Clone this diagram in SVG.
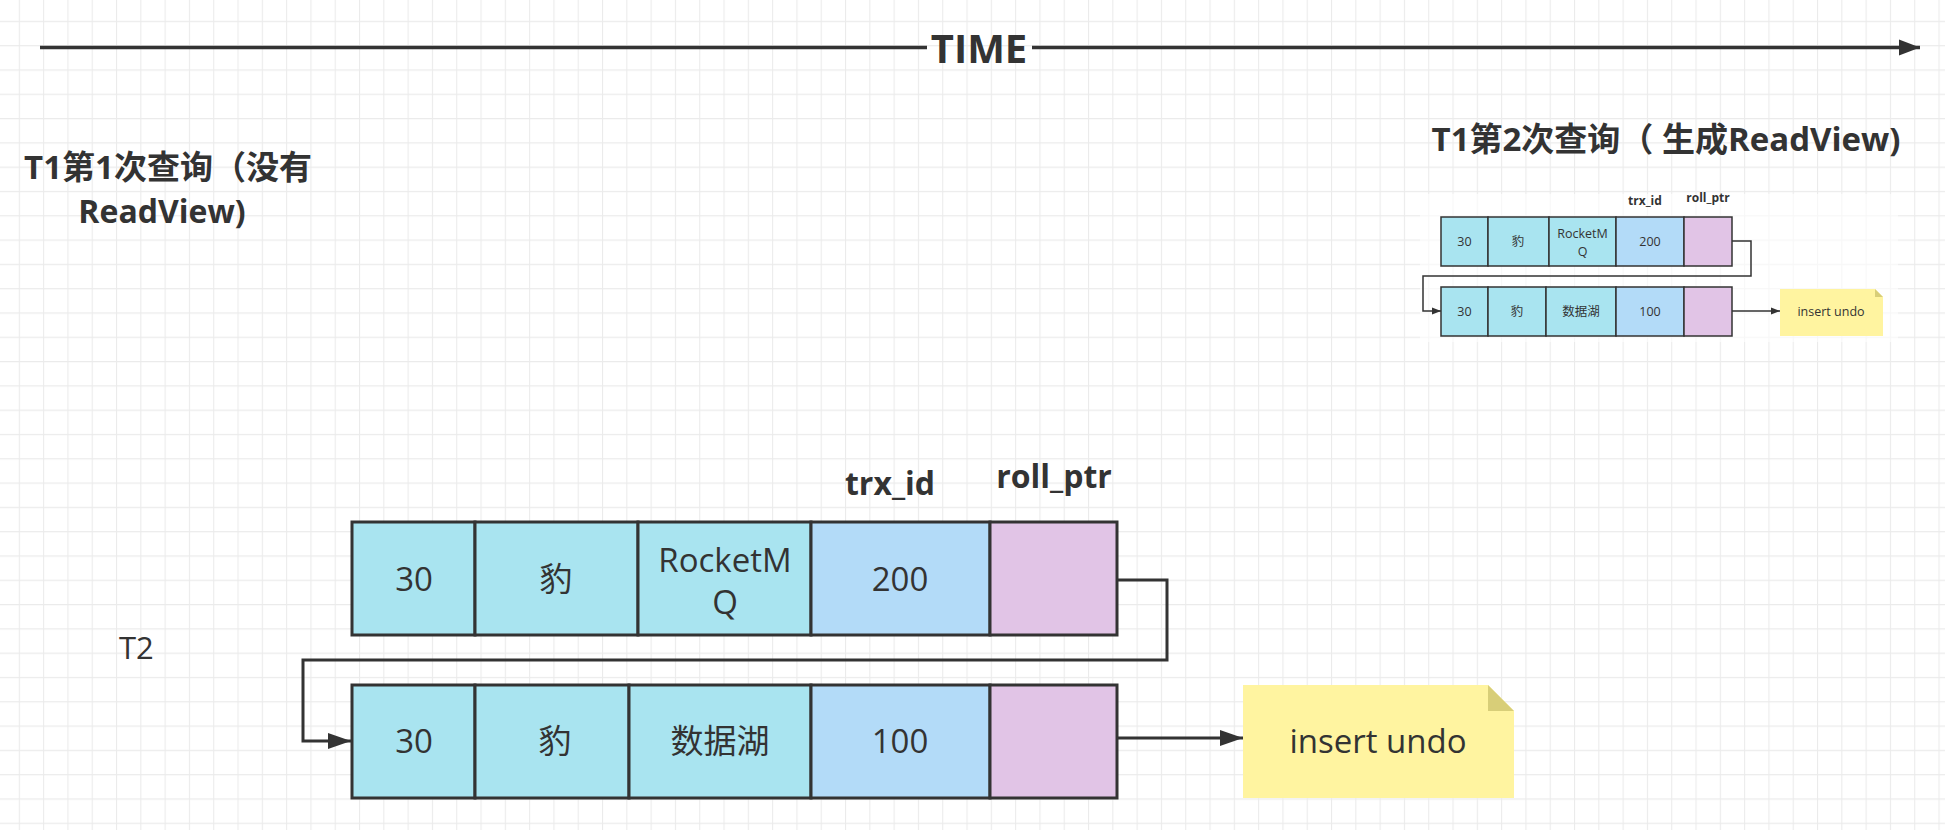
<svg xmlns="http://www.w3.org/2000/svg" width="1945" height="830" viewBox="0 0 1945 830">
<style>
.cell{stroke:#333;stroke-width:3}
.sc{stroke:#333;stroke-width:1.5}
.c{fill:#a9e4f0}
.b{fill:#b3dbf8}
.p{fill:#e1c4e6}
.t{font-family:"Open Sans","Noto Sans CJK SC",sans-serif;fill:#333;text-anchor:middle}
.big{font-size:33px}
.sm{font-size:12.5px}
.bold{font-weight:bold}
.conn{fill:none;stroke:#333;stroke-width:3}
.sconn{fill:none;stroke:#333;stroke-width:1.5}
.note{fill:#fff4a0}
.fold{fill:#d8ce78}
</style>
<defs>
<pattern id="grid" x="18.8" y="20.8" width="24.3" height="24.3" patternUnits="userSpaceOnUse">
<path d="M0.5,0 V24.3 M0,0.5 H24.3" stroke="#ebebeb" stroke-width="1.2" fill="none"/>
</pattern>
<marker id="ah" markerUnits="userSpaceOnUse" markerWidth="24" markerHeight="18" refX="23" refY="9" orient="auto">
<path d="M0,1 L23,9 L0,17 Z" fill="#333"/>
</marker>
<marker id="ahT" markerUnits="userSpaceOnUse" markerWidth="22" markerHeight="18" refX="21" refY="9" orient="auto">
<path d="M0,1 L21,9 L0,17 Z" fill="#333"/>
</marker>
<marker id="ahs" markerUnits="userSpaceOnUse" markerWidth="10" markerHeight="8" refX="9" refY="4" orient="auto">
<path d="M0,0.5 L9,4 L0,7.5 Z" fill="#333"/>
</marker>
</defs>
<rect width="1945" height="830" fill="#ffffff"/>
<rect width="1945" height="830" fill="url(#grid)"/>

<g id="timeline">
<line x1="40" y1="47.5" x2="927" y2="47.5" stroke="#333" stroke-width="3.5"/>
<line x1="1032" y1="47.5" x2="1920" y2="47.5" stroke="#333" stroke-width="3.5" marker-end="url(#ahT)"/>
<text x="979" y="63" class="t bold" style="font-size:40px">TIME</text>
</g>

<g id="label-t1-first">
<text x="168" y="179" class="t bold" style="font-size:33px">T1第1次查询（没有</text>
<text x="162" y="223" class="t bold" style="font-size:32px">ReadView)</text>
</g>

<g id="label-t1-second">
<text x="1666" y="151" class="t bold" style="font-size:33px">T1第2次查询（ 生成ReadView)</text>
</g>

<g id="label-t2">
<text x="119" y="659" class="t" style="font-size:31px;text-anchor:start">T2</text>
</g>

<g id="header-trx-id"><text x="890" y="495" class="t bold" style="font-size:32px">trx_id</text></g>
<g id="header-roll-ptr"><text x="1054" y="488" class="t bold" style="font-size:32px">roll_ptr</text></g>

<g id="row1">
<rect x="352" y="522" width="123" height="113" class="cell c"/>
<rect x="475" y="522" width="163" height="113" class="cell c"/>
<rect x="638" y="522" width="173" height="113" class="cell c"/>
<rect x="811" y="522" width="179" height="113" class="cell b"/>
<rect x="990" y="522" width="127" height="113" class="cell p"/>
<text x="414" y="591" class="t big">30</text>
<text x="556" y="591" class="t big">豹</text>
<text class="t big"><tspan x="725" y="572">RocketM</tspan><tspan x="725" y="614">Q</tspan></text>
<text x="900" y="591" class="t big">200</text>
</g>

<g id="row2">
<rect x="352" y="685" width="123" height="113" class="cell c"/>
<rect x="475" y="685" width="154" height="113" class="cell c"/>
<rect x="629" y="685" width="182" height="113" class="cell c"/>
<rect x="811" y="685" width="179" height="113" class="cell b"/>
<rect x="990" y="685" width="127" height="113" class="cell p"/>
<text x="414" y="753" class="t big">30</text>
<text x="555" y="753" class="t big">豹</text>
<text x="720" y="753" class="t big">数据湖</text>
<text x="900" y="753" class="t big">100</text>
</g>

<g id="note-insert-undo">
<path d="M1243,685 H1488 L1514,711 V798 H1243 Z" class="note"/>
<path d="M1488,685 V711 H1514 Z" class="fold"/>
<text x="1378" y="753" class="t big">insert undo</text>
</g>

<g id="mini-diagram">
<rect x="1420" y="194" width="478" height="148" fill="#ffffff" fill-opacity="0.6"/>
<g id="mini-headers">
<text x="1645" y="205" class="t bold" style="font-size:12px">trx_id</text>
<text x="1708" y="202" class="t bold" style="font-size:12px">roll_ptr</text>
</g>
<g id="mini-row1">
<rect x="1441" y="217" width="47" height="49" class="sc c"/>
<rect x="1488" y="217" width="61" height="49" class="sc c"/>
<rect x="1549" y="217" width="67" height="49" class="sc c"/>
<rect x="1616" y="217" width="68" height="49" class="sc b"/>
<rect x="1684" y="217" width="48" height="49" class="sc p"/>
<text x="1464.5" y="246" class="t sm">30</text>
<text x="1518" y="246" class="t sm">豹</text>
<text class="t sm"><tspan x="1582.5" y="237.5">RocketM</tspan><tspan x="1582.5" y="255.5">Q</tspan></text>
<text x="1650" y="246" class="t sm">200</text>
</g>
<g id="mini-row2">
<rect x="1441" y="287" width="47" height="49" class="sc c"/>
<rect x="1488" y="287" width="58" height="49" class="sc c"/>
<rect x="1546" y="287" width="70" height="49" class="sc c"/>
<rect x="1616" y="287" width="68" height="49" class="sc b"/>
<rect x="1684" y="287" width="48" height="49" class="sc p"/>
<text x="1464.5" y="316" class="t sm">30</text>
<text x="1517" y="316" class="t sm">豹</text>
<text x="1581" y="316" class="t sm">数据湖</text>
<text x="1650" y="316" class="t sm">100</text>
</g>
<g id="mini-note">
<path d="M1780,289 H1875 L1883,297 V336 H1780 Z" class="note"/>
<path d="M1875,289 V297 H1883 Z" class="fold"/>
<text x="1831" y="316" class="t sm">insert undo</text>
</g>
</g>

<g id="connectors">
<path d="M1117,580 H1167 V660 H303 V741 H351" class="conn" marker-end="url(#ah)"/>
<path d="M1117,738 H1243" class="conn" marker-end="url(#ah)"/>
<path d="M1732,241 H1751 V276 H1423 V311 H1441" class="sconn" marker-end="url(#ahs)"/>
<path d="M1732,311 H1780" class="sconn" marker-end="url(#ahs)"/>
</g>
</svg>
